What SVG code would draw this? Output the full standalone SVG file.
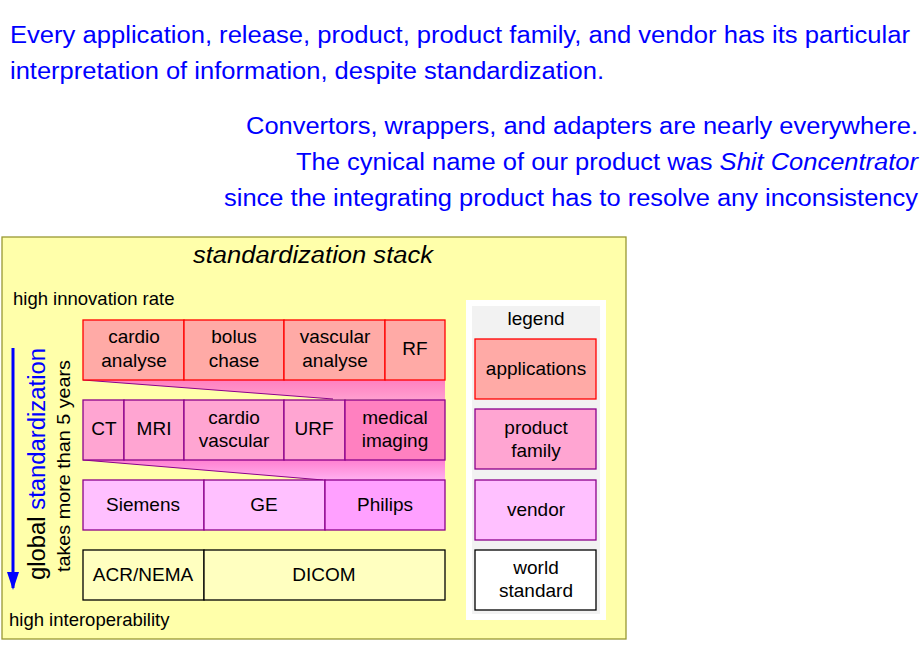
<svg xmlns="http://www.w3.org/2000/svg" width="920" height="660" viewBox="0 0 920 660">
<style>
text{font-family:"Liberation Sans",Arial,sans-serif;fill:#000}
.b{fill:#0000ff;font-size:23px}
.t{font-size:19px;text-anchor:middle}
.s{font-size:18.5px}
.app{fill:#ffaaa6;stroke:#ff0000;stroke-width:1.3}
.pf{fill:#ffa5d2;stroke:#8b008b;stroke-width:1.3}
.pfd{fill:#ff80c0;stroke:#8b008b;stroke-width:1.3}
.ven{fill:#ffc0ff;stroke:#8b008b;stroke-width:1.3}
.vend{fill:#ffa0ff;stroke:#8b008b;stroke-width:1.3}
.ws{fill:#ffffc0;stroke:#000;stroke-width:1.3}
</style>
<defs>
<linearGradient id="g1" x1="0" y1="0" x2="0" y2="1"><stop offset="0" stop-color="#ff80c0"/><stop offset="1" stop-color="#ffa0d0"/></linearGradient>
<linearGradient id="g2" x1="0" y1="0" x2="0" y2="1"><stop offset="0" stop-color="#ff80d0"/><stop offset="1" stop-color="#ffb0f0"/></linearGradient>
<marker id="ah" markerWidth="18" markerHeight="12" refX="16" refY="6" orient="auto" markerUnits="userSpaceOnUse"><path d="M0,0 L18,6 L0,12 z" fill="#0000ff"/></marker>
</defs>
<text class="b" x="10" y="43" textLength="900" lengthAdjust="spacingAndGlyphs">Every application, release, product, product family, and vendor has its particular</text>
<text class="b" x="10" y="79" textLength="594" lengthAdjust="spacingAndGlyphs">interpretation of information, despite standardization.</text>
<text class="b" x="246" y="134" textLength="672" lengthAdjust="spacingAndGlyphs">Convertors, wrappers, and adapters are nearly everywhere.</text>
<text class="b" x="296" y="170" textLength="622" lengthAdjust="spacingAndGlyphs">The cynical name of our product was <tspan font-style="italic">Shit Concentrator</tspan></text>
<text class="b" x="224" y="206" textLength="694" lengthAdjust="spacingAndGlyphs">since the integrating product has to resolve any inconsistency</text>
<rect x="2" y="237" width="624" height="402" fill="#ffffaa" stroke="#999933" stroke-width="1.3"/>
<text x="193" y="263" font-size="23" font-style="italic" textLength="240" lengthAdjust="spacingAndGlyphs">standardization stack</text>
<text class="s" x="13" y="305">high innovation rate</text>
<text class="s" x="9" y="626">high interoperability</text>
<g id="connectors">
<line x1="13" y1="348" x2="13" y2="588" stroke="#0000ff" stroke-width="3" marker-end="url(#ah)"/>
<polygon points="83,380 445,380 445,400 333,399" fill="url(#g1)"/>
<line x1="83" y1="380" x2="333" y2="399" stroke="#8b008b" stroke-width="1"/>
<polygon points="83,460 445,460 445,480 323,480" fill="url(#g2)"/>
<line x1="83" y1="460" x2="323" y2="480" stroke="#8b008b" stroke-width="1"/>
</g>
<text transform="translate(45,580) rotate(-90)" font-size="23" textLength="232" lengthAdjust="spacingAndGlyphs" fill="#000">global <tspan fill="#0000ff">standardization</tspan></text>
<text transform="translate(70,572) rotate(-90)" font-size="19" textLength="212" lengthAdjust="spacingAndGlyphs">takes more than 5 years</text>
<g id="apps">
<rect class="app" x="83" y="320" width="101" height="60"/><text class="t" x="134" y="343">cardio</text><text class="t" x="134" y="367">analyse</text>
<rect class="app" x="184" y="320" width="100" height="60"/><text class="t" x="234" y="343">bolus</text><text class="t" x="234" y="367">chase</text>
<rect class="app" x="284" y="320" width="101" height="60"/><text class="t" x="335" y="343">vascular</text><text class="t" x="335" y="367">analyse</text>
<rect class="app" x="385" y="320" width="60" height="60"/><text class="t" x="415" y="355">RF</text>
</g>
<g id="families">
<rect class="pf" x="83" y="400" width="41" height="60"/><text class="t" x="104" y="435">CT</text>
<rect class="pf" x="124" y="400" width="60" height="60"/><text class="t" x="154" y="435">MRI</text>
<rect class="pf" x="184" y="400" width="100" height="60"/><text class="t" x="234" y="424">cardio</text><text class="t" x="234" y="447">vascular</text>
<rect class="pf" x="284" y="400" width="61" height="60"/><text class="t" x="314" y="435">URF</text>
<rect class="pfd" x="345" y="400" width="100" height="60"/><text class="t" x="395" y="424">medical</text><text class="t" x="395" y="447">imaging</text>
</g>
<g id="vendors">
<rect class="ven" x="83" y="480" width="121" height="50"/><text class="t" x="143" y="511">Siemens</text>
<rect class="ven" x="204" y="480" width="121" height="50"/><text class="t" x="264" y="511">GE</text>
<rect class="vend" x="325" y="480" width="120" height="50"/><text class="t" x="385" y="511">Philips</text>
</g>
<g id="standards">
<rect class="ws" x="83" y="550" width="121" height="50"/><text class="t" x="143" y="581">ACR/NEMA</text>
<rect class="ws" x="204" y="550" width="241" height="50"/><text class="t" x="324" y="581">DICOM</text>
</g>
<g id="legend">
<rect x="466" y="300" width="140" height="320" fill="#ffffff"/>
<rect x="472" y="306" width="128" height="308" fill="#f2f2f2"/>
<text class="t" x="536" y="325" font-size="18">legend</text>
<rect class="app" x="475" y="339" width="121" height="60"/><text class="t" x="536" y="375" font-size="18">applications</text>
<rect class="pf" x="475" y="409" width="121" height="60"/><text class="t" x="536" y="434" font-size="18">product</text><text class="t" x="536" y="457" font-size="18">family</text>
<rect class="ven" x="475" y="480" width="121" height="60"/><text class="t" x="536" y="516" font-size="18">vendor</text>
<rect x="475" y="550" width="121" height="60" fill="#fff" stroke="#000" stroke-width="1.3"/><text class="t" x="536" y="574" font-size="18">world</text><text class="t" x="536" y="597" font-size="18">standard</text>
</g>
</svg>
